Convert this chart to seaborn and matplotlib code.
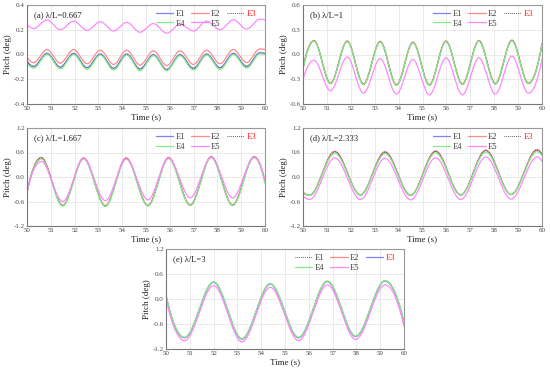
import numpy as np
import pandas as pd
import matplotlib
matplotlib.use("Agg")
import matplotlib.pyplot as plt
from matplotlib.ticker import FormatStrFormatter
import seaborn as sns

# ---------------- data (start, extrema, end) -------------
labels_panel = ["(a) λ/L=0.667", "(b) λ/L=1", "(c) λ/L=1.667", "(d) λ/L=2.333", "(e) λ/L=3"]
series_names = ["E1", "E2", "E3", "E4", "E5"]

t_a = [50.0, 50.28, 50.84, 51.40, 51.96, 52.52, 53.08, 53.64, 54.19, 54.75, 55.31,
       55.87, 56.43, 56.99, 57.55, 58.11, 58.67, 59.23, 59.78, 60.0]
a_E1 = [-0.05, -0.095, 0.01, -0.10, 0.01, -0.105, 0.005, -0.11, 0.005, -0.115, 0.0,
        -0.12, 0.0, -0.11, 0.005, -0.105, 0.01, -0.095, 0.015, 0.01]
a_E2 = [-0.02, -0.065, 0.04, -0.07, 0.04, -0.075, 0.035, -0.08, 0.035, -0.085, 0.03,
        -0.09, 0.03, -0.08, 0.035, -0.075, 0.04, -0.065, 0.045, 0.04]
a_E3 = [-0.055, -0.10, 0.005, -0.105, 0.005, -0.11, 0.0, -0.115, 0.0, -0.12, -0.005,
        -0.125, -0.005, -0.115, 0.0, -0.11, 0.005, -0.10, 0.01, 0.005]
a_E4 = [-0.07, -0.11, 0.0, -0.115, 0.0, -0.12, -0.005, -0.125, -0.005, -0.13, -0.01,
        -0.13, -0.01, -0.125, -0.005, -0.12, 0.0, -0.11, 0.005, 0.0]
a_E5 = [0.245, 0.21, 0.28, 0.20, 0.27, 0.195, 0.265, 0.19, 0.26, 0.18, 0.25,
        0.172, 0.245, 0.19, 0.27, 0.20, 0.28, 0.205, 0.285, 0.28]

t_b = [50.0, 50.46, 51.15, 51.85, 52.53, 53.23, 53.91, 54.60, 55.29, 55.98, 56.67,
       57.36, 58.05, 58.74, 59.43, 60.0]
b_E1 = [-0.17, 0.165, -0.35, 0.16, -0.36, 0.155, -0.37, 0.145, -0.37, 0.16, -0.36,
        0.165, -0.355, 0.17, -0.35, 0.13]
b_E2 = [-0.165, 0.17, -0.345, 0.165, -0.355, 0.16, -0.365, 0.15, -0.365, 0.165, -0.355,
        0.17, -0.35, 0.175, -0.345, 0.135]
b_E3 = [-0.17, 0.165, -0.35, 0.16, -0.36, 0.155, -0.37, 0.145, -0.37, 0.16, -0.36,
        0.165, -0.355, 0.17, -0.35, 0.13]
b_E4 = [-0.175, 0.16, -0.355, 0.155, -0.365, 0.15, -0.375, 0.14, -0.375, 0.155, -0.365,
        0.16, -0.36, 0.165, -0.355, 0.125]
b_E5 = [-0.30, -0.07, -0.44, -0.03, -0.47, -0.05, -0.48, -0.06, -0.49, -0.04, -0.49,
        -0.04, -0.48, -0.02, -0.47, -0.06]

t_c = [50.0, 50.60, 51.50, 52.38, 53.29, 54.17, 55.08, 55.95, 56.86, 57.74, 58.64, 59.54, 60.0]
c_E1 = [-0.38, 0.47, -0.70, 0.46, -0.71, 0.46, -0.70, 0.47, -0.69, 0.49, -0.69, 0.49, -0.13]
c_E2 = [-0.37, 0.48, -0.69, 0.47, -0.70, 0.47, -0.69, 0.48, -0.68, 0.50, -0.68, 0.50, -0.12]
c_E3 = [-0.38, 0.47, -0.70, 0.46, -0.71, 0.46, -0.70, 0.47, -0.69, 0.49, -0.69, 0.49, -0.13]
c_E4 = [-0.39, 0.44, -0.71, 0.44, -0.72, 0.44, -0.71, 0.45, -0.70, 0.47, -0.70, 0.47, -0.15]
c_E5 = [-0.36, 0.38, -0.60, 0.45, -0.58, 0.44, -0.56, 0.46, -0.51, 0.48, -0.51, 0.48, -0.08]

t_d = [50.0, 50.28, 51.33, 52.40, 53.43, 54.50, 55.55, 56.60, 57.65, 58.71, 59.79, 60.0]
d_E1 = [-0.38, -0.45, 0.62, -0.44, 0.61, -0.45, 0.63, -0.44, 0.65, -0.43, 0.66, 0.55]
d_E2 = [-0.37, -0.445, 0.63, -0.435, 0.62, -0.445, 0.64, -0.435, 0.66, -0.425, 0.67, 0.56]
d_E3 = [-0.38, -0.45, 0.62, -0.44, 0.61, -0.45, 0.63, -0.44, 0.65, -0.43, 0.66, 0.55]
d_E4 = [-0.39, -0.45, 0.58, -0.44, 0.57, -0.45, 0.59, -0.44, 0.61, -0.43, 0.62, 0.52]
d_E5 = [-0.46, -0.55, 0.47, -0.55, 0.46, -0.56, 0.47, -0.55, 0.49, -0.54, 0.49, 0.38]

t_e = [50.0, 50.78, 52.00, 53.19, 54.38, 55.57, 56.78, 57.97, 59.20, 60.0]
e_E1 = [0.08, -0.93, 0.40, -0.96, 0.36, -0.93, 0.42, -0.90, 0.43, -0.58]
e_E2 = [0.09, -0.925, 0.405, -0.955, 0.365, -0.925, 0.425, -0.895, 0.435, -0.57]
e_E3 = [0.08, -0.93, 0.40, -0.96, 0.36, -0.93, 0.42, -0.90, 0.43, -0.58]
e_E4 = [0.10, -0.92, 0.41, -0.95, 0.37, -0.92, 0.43, -0.89, 0.44, -0.56]
e_E5 = [0.00, -1.00, 0.32, -1.03, 0.28, -1.00, 0.34, -0.97, 0.34, -0.66]

yticks_list = [[-0.4, -0.2, 0.0, 0.2, 0.4], [-0.6, -0.3, 0.0, 0.3, 0.6],
               [-1.2, -0.6, 0.0, 0.6, 1.2], [-1.2, -0.6, 0.0, 0.6, 1.2],
               [-1.2, -0.6, 0.0, 0.6, 1.2]]
xticks = [50, 51, 52, 53, 54, 55, 56, 57, 58, 59, 60]

panels = [
    (t_a, [a_E1, a_E2, a_E3, a_E4, a_E5]),
    (t_b, [b_E1, b_E2, b_E3, b_E4, b_E5]),
    (t_c, [c_E1, c_E2, c_E3, c_E4, c_E5]),
    (t_d, [d_E1, d_E2, d_E3, d_E4, d_E5]),
    (t_e, [e_E1, e_E2, e_E3, e_E4, e_E5]),
]


def smooth(t, v, n=40):
    """Piecewise cubic Hermite through the read points (zero slope at extrema)."""
    t = np.asarray(t, float)
    v = np.asarray(v, float)
    m = np.zeros_like(v)
    m[0] = 2 * (v[1] - v[0]) / (t[1] - t[0])
    m[-1] = 2 * (v[-1] - v[-2]) / (t[-1] - t[-2])
    ts, vs = [], []
    for i in range(len(t) - 1):
        s = np.linspace(0, 1, n, endpoint=False)
        h = t[i + 1] - t[i]
        h00 = 2 * s**3 - 3 * s**2 + 1
        h10 = s**3 - 2 * s**2 + s
        h01 = -2 * s**3 + 3 * s**2
        h11 = s**3 - s**2
        ts.append(t[i] + s * h)
        vs.append(h00 * v[i] + h10 * h * m[i] + h01 * v[i + 1] + h11 * h * m[i + 1])
    ts.append([t[-1]])
    vs.append([v[-1]])
    return np.concatenate(ts), np.concatenate(vs)


# ---------------- styling ----------------
sns.set_theme(style="whitegrid")
plt.rcParams["font.family"] = ["Liberation Serif", "DejaVu Serif"]

c_blue = "#8080ff"
c_red = "#ff8a8a"
c_green = "#80ee80"
c_pink = "#ff88ff"

dot = dict(color="#333333", ls=(0, (1.0, 1.3)), lw=0.6)
style_std = {
    "E1": dict(color=c_blue, ls="-", lw=0.9),
    "E2": dict(color=c_red, ls="-", lw=0.9),
    "E3": dot,
    "E4": dict(color=c_green, ls="-", lw=0.9),
    "E5": dict(color=c_pink, ls="-", lw=0.9),
}
style_e = dict(style_std)
style_e["E1"] = dot
style_e["E3"] = dict(color=c_blue, ls="-", lw=0.9)

fig = plt.figure(figsize=(5.5, 3.68), dpi=100)
W, H = 550.0, 368.0
boxes = [(27, 5, 238, 99), (303, 5, 239, 99), (27, 128, 238, 98),
         (303, 128, 239, 98), (166, 249, 238, 100)]

draw_order = ["E1", "E2", "E3", "E4", "E5"]

for k, ((t, vals), box) in enumerate(zip(panels, boxes)):
    x0, y0, w, h = box
    ax = fig.add_axes([x0 / W, 1 - (y0 + h) / H, w / W, h / H])
    styles = style_e if k == 4 else style_std
    for name in draw_order:
        idx = series_names.index(name)
        ts, vs = smooth(t, vals[idx])
        df = pd.DataFrame({"Time": ts, "Pitch": vs})
        st = styles[name]
        sns.lineplot(data=df, x="Time", y="Pitch", ax=ax, color=st["color"],
                     linewidth=st["lw"], linestyle=st["ls"], label=name,
                     estimator=None, sort=False)
    lines = {ln.get_label(): ln for ln in ax.get_lines()}
    order = ["E1", "E4", "E2", "E5", "E3"]
    leg = ax.legend([lines[n] for n in order], order, ncol=3, loc="upper right",
                    frameon=False, fontsize=6.2, handlelength=2.0,
                    columnspacing=0.7, handletextpad=0.3, labelspacing=0.15,
                    borderaxespad=0.2, bbox_to_anchor=(0.985, 1.0))
    for txt in leg.get_texts():
        if txt.get_text() == "E3":
            txt.set_color("#ff2020")
        else:
            txt.set_color("#444444")

    yt = yticks_list[k]
    ax.set_xlim(50, 60)
    ax.set_ylim(yt[0], yt[-1])
    ax.set_xticks(xticks)
    ax.set_yticks(yt)
    ax.yaxis.set_major_formatter(FormatStrFormatter("%.1f"))
    ax.tick_params(axis="both", labelsize=5, length=0, pad=1.5, colors="#444444")
    ax.set_xlabel("Time (s)", fontsize=6.5, labelpad=1.5, color="#222222")
    ax.set_ylabel("Pitch (deg)", fontsize=6.5, labelpad=1.5, color="#222222")
    ax.grid(True, color="#e6e6e6", linewidth=0.6)
    ax.set_facecolor("white")
    for sp in ax.spines.values():
        sp.set_color("#999999")
        sp.set_linewidth(0.8)
    ax.spines["left"].set_color("#777777")
    ax.spines["bottom"].set_color("#777777")
    ax.text(0.03, 0.9, labels_panel[k], transform=ax.transAxes, fontsize=6.2,
            color="#222222", va="center", ha="left")

fig.savefig("out.png", dpi=100, facecolor="white")
